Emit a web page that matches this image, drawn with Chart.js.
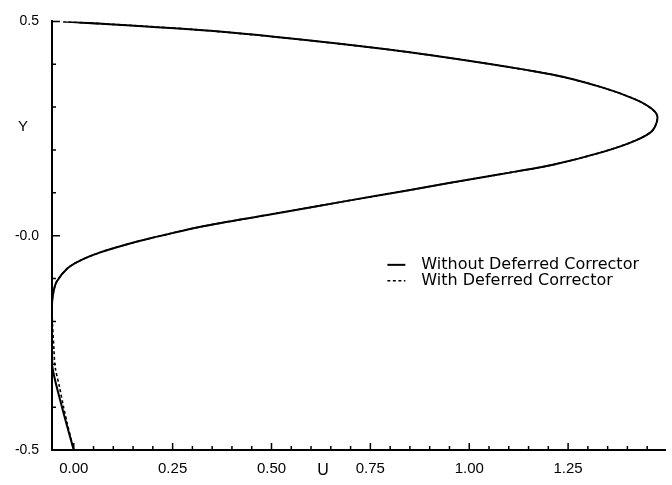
<!DOCTYPE html>
<html>
<head>
<meta charset="utf-8">
<script src="https://cdn.jsdelivr.net/npm/chart.js@4/dist/chart.umd.min.js"></script>
<style>
  html, body { margin: 0; padding: 0; background: #fff; }
  #wrap { width: 672px; height: 485px; position: relative; }
</style>
</head>
<body>
<div id="wrap"><canvas id="chart"></canvas></div>
<script>
// velocity profile (top wall -> bottom wall)
const withoutU = [-0.027, 0.346, 0.727, 0.956, 1.209, 1.336, 1.420, 1.463, 1.476, 1.463, 1.420, 1.336, 1.209, 1.082, 0.956, 0.829, 0.702, 0.500, 0.321, 0.194, 0.131, 0.067, 0.016, -0.017, -0.043, -0.051, -0.055, -0.055, -0.055, -0.054, -0.028, 0.000];
const withoutY = [0.500, 0.478, 0.442, 0.414, 0.376, 0.346, 0.318, 0.295, 0.276, 0.245, 0.222, 0.195, 0.165, 0.144, 0.124, 0.103, 0.083, 0.050, 0.021, -0.006, -0.021, -0.039, -0.058, -0.077, -0.107, -0.130, -0.160, -0.200, -0.250, -0.307, -0.406, -0.500];

const withU = [-0.027, 0.346, 0.727, 0.956, 1.209, 1.336, 1.420, 1.463, 1.476, 1.463, 1.420, 1.336, 1.209, 1.082, 0.956, 0.829, 0.702, 0.500, 0.321, 0.194, 0.131, 0.067, 0.016, -0.017, -0.043, -0.051, -0.055, -0.054, -0.050, -0.047, -0.036, -0.026, -0.017, 0.000];
const withY = [0.500, 0.478, 0.442, 0.414, 0.376, 0.346, 0.318, 0.295, 0.276, 0.245, 0.222, 0.195, 0.165, 0.144, 0.124, 0.103, 0.083, 0.050, 0.021, -0.006, -0.021, -0.039, -0.058, -0.077, -0.107, -0.130, -0.160, -0.200, -0.268, -0.307, -0.353, -0.399, -0.436, -0.500];

const seriesNames = ['Without Deferred Corrector', 'With Deferred Corrector'];

// ticks: minor every 0.05 on U, every 0.1 on Y
const xTicks = [];
for (let i = 0; i <= 29; i++) xTicks.push(+(i * 0.05).toFixed(2));
const xLabelled = [0, 0.25, 0.5, 0.75, 1.0, 1.25];
const yTicks = [-0.5, -0.4, -0.3, -0.2, -0.1, 0, 0.1, 0.2, 0.3, 0.4, 0.5];
const yLabels = { '0.5': '0.5', '0': '-0.0', '-0.5': '-0.5' };

const toPts = (us, ys) => us.map((u, i) => ({ x: u, y: ys[i] }));
const isMajorX = (v) => xLabelled.some((m) => Math.abs(m - v) < 1e-6);

const inwardTicks = {
    id: 'inwardTicks',
    afterDraw(chart) {
        const { ctx, chartArea, scales } = chart;
        ctx.save();
        ctx.strokeStyle = '#000';
        ctx.lineWidth = 1.5;
        ctx.beginPath();
        xTicks.forEach((v) => {
            const px = scales.x.getPixelForValue(v);
            const len = isMajorX(v) ? 7 : 4;
            ctx.moveTo(px, chartArea.bottom);
            ctx.lineTo(px, chartArea.bottom - len);
        });
        yTicks.forEach((v) => {
            const py = scales.y.getPixelForValue(v);
            const len = yLabels[String(v)] ? 8 : 4;
            ctx.moveTo(chartArea.left, py);
            ctx.lineTo(chartArea.left + len, py);
        });
        ctx.stroke();

        // axis titles
        ctx.fillStyle = '#000';
        ctx.textAlign = 'center';
        ctx.textBaseline = 'middle';
        ctx.font = '15px "Liberation Sans", Arial, sans-serif';
        ctx.fillText('Y', chartArea.left - 29, scales.y.getPixelForValue(0.255));
        ctx.font = '16px "Liberation Sans", Arial, sans-serif';
        ctx.fillText('U', scales.x.getPixelForValue(0.63), chartArea.bottom + 21);

        // legend
        const lx = scales.x.getPixelForValue(0.793);
        const rows = [scales.y.getPixelForValue(-0.068), scales.y.getPixelForValue(-0.105)];
        ctx.textAlign = 'left';
        ctx.font = '16px "DejaVu Sans", sans-serif';
        rows.forEach((ry, i) => {
            ctx.beginPath();
            ctx.lineWidth = i === 0 ? 2 : 1.5;
            ctx.setLineDash(i === 0 ? [] : [3, 2.5]);
            ctx.moveTo(lx, ry);
            ctx.lineTo(lx + 18, ry);
            ctx.stroke();
            ctx.setLineDash([]);
            ctx.fillText(seriesNames[i], lx + 34, ry);
        });
        ctx.restore();
    },
};

new Chart(document.getElementById('chart'), {
    type: 'scatter',
    data: {
        datasets: [
            {
                label: seriesNames[0],
                data: toPts(withoutU, withoutY),
                showLine: true,
                borderColor: '#000',
                borderWidth: 2,
                pointRadius: 0,
                tension: 0.3,
            },
            {
                label: seriesNames[1],
                data: toPts(withU, withY),
                showLine: true,
                borderColor: '#000',
                borderWidth: 1.6,
                borderDash: [3, 2.5],
                pointRadius: 0,
                tension: 0.3,
            },
        ],
    },
    options: {
        responsive: true,
        maintainAspectRatio: false,
        animation: false,
        layout: { padding: { top: 15, right: 7, left: 0, bottom: 0 } },
        plugins: { legend: { display: false }, tooltip: { enabled: false } },
        scales: {
            x: {
                type: 'linear',
                min: -0.055,
                max: 1.495,
                afterBuildTicks: (s) => { s.ticks = xTicks.map((v) => ({ value: v })); },
                afterFit: (s) => { s.height = 35; },
                grid: { display: false, drawTicks: false },
                border: { display: true, color: '#000', width: 2 },
                ticks: {
                    autoSkip: false,
                    maxRotation: 0,
                    padding: 10,
                    color: '#000',
                    font: { family: '"Liberation Sans", Arial, sans-serif', size: 15 },
                    callback: (v) => (isMajorX(v) ? v.toFixed(2) : ''),
                },
            },
            y: {
                type: 'linear',
                min: -0.5,
                max: 0.5,
                afterBuildTicks: (s) => { s.ticks = yTicks.map((v) => ({ value: v })); },
                afterFit: (s) => { s.width = 52; },
                grid: { display: false, drawTicks: false },
                border: { display: true, color: '#000', width: 2 },
                ticks: {
                    autoSkip: false,
                    padding: 13,
                    color: '#000',
                    font: { family: '"Liberation Sans", Arial, sans-serif', size: 14 },
                    callback: (v) => yLabels[String(v)] || '',
                },
            },
        },
    },
    plugins: [inwardTicks],
});
</script>
</body>
</html>
